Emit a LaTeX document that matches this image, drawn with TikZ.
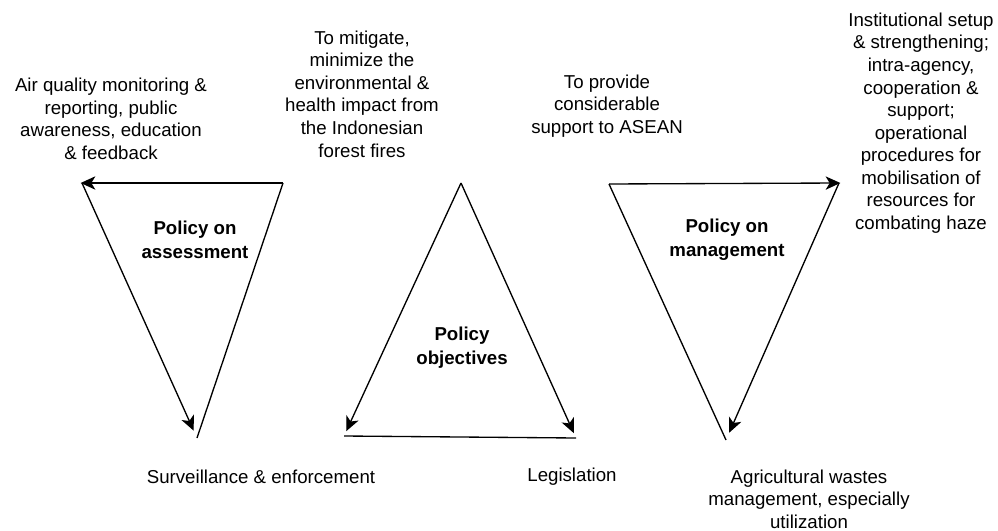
\documentclass[tikz,border=0pt]{standalone}
\usepackage{fontspec}
\setmainfont{Liberation Sans}
\usetikzlibrary{arrows.meta}

\begin{document}
\begin{tikzpicture}[x=0.75pt, y=-0.75pt,
    edge/.style={line width=1pt},
    arr/.style={edge, -{Stealth[length=11pt, width=10pt, inset=3pt]}, shorten >=-1pt},
    txt/.style={align=center, inner sep=0pt, font=\fontsize{14pt}{16.9pt}\selectfont},
    lbl/.style={align=center, inner sep=0pt, font=\bfseries\fontsize{14pt}{18.2pt}\selectfont}]
        % --- 1. Frame ---
        \useasboundingbox (0,0) rectangle (998,531);

        % --- 2. Triangle corners ---
        \coordinate (AssR) at (283,183);
        \coordinate (AssL) at (82,183);
        \coordinate (AssB) at (197,438);
        \coordinate (ObjT) at (461,183);
        \coordinate (ObjL) at (344,436);
        \coordinate (ObjR) at (576,438);
        \coordinate (ManL) at (609,184);
        \coordinate (ManR) at (839,183);
        \coordinate (ManB) at (726,440);

        % --- 3. Policy on assessment ---
        \draw[arr] (AssR) -- (AssL);
        \draw[arr, shorten >=6pt] (AssL) -- (AssB);
        \draw[edge] (AssB) -- (AssR);
        \node[lbl] (assess) at (195,240) {Policy on\\assessment};

        % --- 4. Policy objectives ---
        \draw[arr, shorten >=4pt] (ObjT) -- (ObjL);
        \draw[arr, shorten >=4pt] (ObjT) -- (ObjR);
        \draw[edge] (ObjL) -- (ObjR);
        \node[lbl] (obj) at (462,348) {Policy\\objectives};

        % --- 5. Policy on management ---
        \draw[arr] (ManL) -- (ManR);
        \draw[arr, shorten >=6pt] (ManR) -- (ManB);
        \draw[edge] (ManL) -- (ManB);
        \node[lbl] (manage) at (727,240) {Policy on\\management};

        % --- 6. Texts round the triangles ---
        \node[txt] (airq) at (111,119) {Air quality monitoring \&\\reporting, public\\awareness, education\\\& feedback};
        \node[txt] (mitig) at (362,94) {To mitigate,\\minimize the\\environmental \&\\health impact from\\the Indonesian\\forest fires};
        \node[txt] (asean) at (607,106) {To provide\\considerable\\support to ASEAN};
        \node[txt] (inst) at (921,123) {Institutional setup\\\& strengthening;\\intra-agency,\\cooperation \&\\support;\\operational\\procedures for\\mobilisation of\\resources for\\combating haze};
        \node[txt] (surv) at (261,477) {Surveillance \& enforcement};
        \node[txt] (legis) at (572,477) {Legislation};
        \node[txt] (agri) at (809,499) {Agricultural wastes\\management, especially\\utilization};
    \end{tikzpicture}
\end{document}
